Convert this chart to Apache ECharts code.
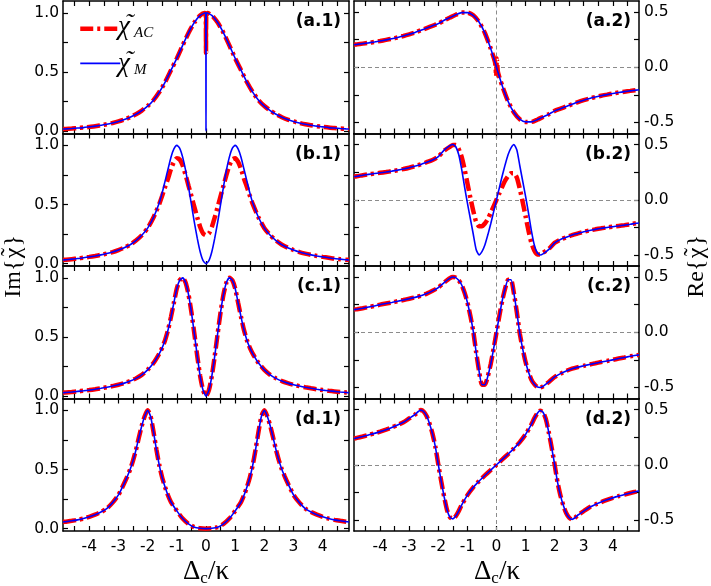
<!DOCTYPE html>
<html>
<head>
<meta charset="utf-8">
<script src="https://cdn.jsdelivr.net/npm/echarts@6/dist/echarts.min.js"></script>
<style>html,body{margin:0;padding:0;background:#fff;}#c{width:711px;height:586px;}</style>
</head>
<body>
<div id="c"></div>
<script>
// ---------- tick values ----------
const xTicks = [-4.5,-4,-3.5,-3,-2.5,-2,-1.5,-1,-0.5,0,0.5,1,1.5,2,2.5,3,3.5,4,4.5];
const xTickLabels = [-4,-3,-2,-1,0,1,2,3,4];
const imTicks = [0,0.25,0.5,0.75,1.0];
const imTickLabels = [0,0.5,1.0];
const reTicks = [-0.5,-0.25,0,0.25,0.5];
const reTickLabels = [-0.5,0,0.5];
const panelLabels = ['(a.1)','(a.2)','(b.1)','(b.2)','(c.1)','(c.2)','(d.1)','(d.2)'];
const legendSubs = ['AC','M'];

// ---------- row (a) ----------
const xA = [-4.9,-4.8,-4.6,-4.4,-4.2,-4.0,-3.8,-3.6,-3.4,-3.2,-3.0,-2.8,-2.6,-2.4,-2.2,-2.0,-1.8,-1.6,-1.4,-1.2,-1.0,-0.8,-0.6,-0.4,-0.2,-0.05,-0.01,0,0.01,0.05,0.2,0.4,0.6,0.8,1.0,1.2,1.4,1.6,1.8,2.0,2.2,2.4,2.6,2.8,3.0,3.2,3.4,3.6,3.8,4.0,4.2,4.4,4.6,4.8,4.9];
const imA_AC = [0.018,0.019,0.022,0.026,0.030,0.036,0.042,0.050,0.058,0.069,0.082,0.098,0.118,0.143,0.174,0.212,0.262,0.330,0.415,0.515,0.615,0.725,0.830,0.918,0.978,0.998,0.995,0.660,0.995,0.998,0.978,0.918,0.830,0.725,0.615,0.515,0.415,0.330,0.262,0.212,0.174,0.143,0.118,0.098,0.082,0.069,0.058,0.050,0.042,0.036,0.030,0.026,0.022,0.019,0.018];
const imA_M  = [0.018,0.019,0.022,0.026,0.030,0.036,0.042,0.050,0.058,0.069,0.082,0.098,0.118,0.143,0.174,0.212,0.262,0.330,0.415,0.515,0.615,0.725,0.830,0.918,0.978,0.998,1.000,0.000,1.000,0.998,0.978,0.918,0.830,0.725,0.615,0.515,0.415,0.330,0.262,0.212,0.174,0.143,0.118,0.098,0.082,0.069,0.058,0.050,0.042,0.036,0.030,0.026,0.022,0.019,0.018];
const reA_AC = [0.204,0.207,0.214,0.221,0.229,0.238,0.248,0.258,0.270,0.283,0.298,0.315,0.335,0.355,0.375,0.395,0.425,0.450,0.475,0.495,0.495,0.470,0.410,0.310,0.170,0.045,-0.080,0.000,0.080,-0.045,-0.170,-0.310,-0.410,-0.470,-0.495,-0.495,-0.475,-0.450,-0.425,-0.395,-0.375,-0.355,-0.335,-0.315,-0.298,-0.283,-0.270,-0.258,-0.248,-0.238,-0.229,-0.221,-0.214,-0.207,-0.204];
const reA_M  = [0.204,0.207,0.214,0.221,0.229,0.238,0.248,0.258,0.270,0.283,0.298,0.315,0.335,0.355,0.375,0.395,0.425,0.450,0.475,0.495,0.495,0.470,0.410,0.310,0.170,0.045,0.009,0.000,-0.009,-0.045,-0.170,-0.310,-0.410,-0.470,-0.495,-0.495,-0.475,-0.450,-0.425,-0.395,-0.375,-0.355,-0.335,-0.315,-0.298,-0.283,-0.270,-0.258,-0.248,-0.238,-0.229,-0.221,-0.214,-0.207,-0.204];

// ---------- row (b) ----------
const xB = [-4.9,-4.8,-4.6,-4.4,-4.2,-4.0,-3.8,-3.6,-3.4,-3.2,-3.0,-2.8,-2.6,-2.4,-2.2,-2.0,-1.8,-1.6,-1.5,-1.4,-1.3,-1.2,-1.1,-1.0,-0.9,-0.8,-0.7,-0.6,-0.5,-0.4,-0.3,-0.2,-0.1,0,0.1,0.2,0.3,0.4,0.5,0.6,0.7,0.8,0.9,1.0,1.1,1.2,1.3,1.4,1.5,1.6,1.8,2.0,2.2,2.4,2.6,2.8,3.0,3.2,3.4,3.6,3.8,4.0,4.2,4.4,4.6,4.8,4.9];
const imB_AC = [0.031,0.033,0.038,0.043,0.050,0.057,0.065,0.074,0.085,0.098,0.115,0.135,0.160,0.195,0.240,0.300,0.390,0.505,0.575,0.650,0.720,0.800,0.860,0.890,0.880,0.830,0.750,0.660,0.570,0.480,0.390,0.310,0.255,0.240,0.255,0.310,0.390,0.480,0.570,0.660,0.750,0.830,0.880,0.890,0.860,0.800,0.720,0.650,0.575,0.505,0.390,0.300,0.240,0.195,0.160,0.135,0.115,0.098,0.085,0.074,0.065,0.057,0.050,0.043,0.038,0.033,0.031];
const imB_M  = [0.031,0.033,0.038,0.043,0.050,0.057,0.065,0.074,0.085,0.098,0.115,0.135,0.160,0.195,0.240,0.300,0.390,0.515,0.600,0.700,0.800,0.900,0.970,1.000,0.975,0.900,0.790,0.650,0.500,0.350,0.215,0.100,0.025,0.000,0.025,0.100,0.215,0.350,0.500,0.650,0.790,0.900,0.975,1.000,0.970,0.900,0.800,0.700,0.600,0.515,0.390,0.300,0.240,0.195,0.160,0.135,0.115,0.098,0.085,0.074,0.065,0.057,0.050,0.043,0.038,0.033,0.031];
const reB_AC = [0.210,0.213,0.222,0.230,0.237,0.244,0.251,0.259,0.268,0.278,0.290,0.305,0.320,0.340,0.360,0.390,0.445,0.480,0.495,0.495,0.460,0.390,0.280,0.150,0.020,-0.100,-0.200,-0.240,-0.240,-0.215,-0.175,-0.120,-0.060,0.000,0.060,0.120,0.175,0.215,0.240,0.240,0.200,0.100,-0.020,-0.150,-0.280,-0.390,-0.460,-0.495,-0.495,-0.480,-0.445,-0.390,-0.360,-0.340,-0.320,-0.305,-0.290,-0.278,-0.268,-0.259,-0.251,-0.244,-0.237,-0.230,-0.222,-0.213,-0.210];
const reB_M  = [0.210,0.213,0.222,0.230,0.237,0.244,0.251,0.259,0.268,0.278,0.290,0.305,0.320,0.340,0.360,0.390,0.450,0.490,0.500,0.480,0.410,0.280,0.120,-0.030,-0.170,-0.310,-0.450,-0.500,-0.470,-0.410,-0.320,-0.220,-0.110,0.000,0.110,0.220,0.320,0.410,0.470,0.500,0.450,0.310,0.170,0.030,-0.120,-0.280,-0.410,-0.480,-0.500,-0.490,-0.450,-0.390,-0.360,-0.340,-0.320,-0.305,-0.290,-0.278,-0.268,-0.259,-0.251,-0.244,-0.237,-0.230,-0.222,-0.213,-0.210];

// ---------- row (c) (both curves coincide) ----------
const xC = [-4.9,-4.8,-4.6,-4.4,-4.2,-4.0,-3.8,-3.6,-3.4,-3.2,-3.0,-2.8,-2.6,-2.4,-2.2,-2.0,-1.8,-1.6,-1.5,-1.4,-1.3,-1.2,-1.1,-1.0,-0.9,-0.8,-0.7,-0.6,-0.5,-0.4,-0.3,-0.2,-0.1,0,0.1,0.2,0.3,0.4,0.5,0.6,0.7,0.8,0.9,1.0,1.1,1.2,1.3,1.4,1.5,1.6,1.8,2.0,2.2,2.4,2.6,2.8,3.0,3.2,3.4,3.6,3.8,4.0,4.2,4.4,4.6,4.8,4.9];
const imC = [0.029,0.031,0.035,0.040,0.045,0.051,0.058,0.066,0.075,0.085,0.096,0.110,0.127,0.150,0.180,0.222,0.280,0.360,0.410,0.475,0.560,0.670,0.790,0.910,0.980,1.000,0.960,0.860,0.710,0.530,0.340,0.170,0.050,0.000,0.050,0.170,0.340,0.530,0.710,0.860,0.960,1.000,0.980,0.910,0.790,0.670,0.560,0.475,0.410,0.360,0.280,0.222,0.180,0.150,0.127,0.110,0.096,0.085,0.075,0.066,0.058,0.051,0.045,0.040,0.035,0.031,0.029];
const reC = [0.205,0.209,0.218,0.228,0.238,0.250,0.260,0.270,0.281,0.292,0.304,0.316,0.330,0.350,0.375,0.405,0.450,0.490,0.500,0.495,0.470,0.430,0.360,0.270,0.150,0.010,-0.180,-0.350,-0.475,-0.475,-0.400,-0.290,-0.150,0.000,0.150,0.290,0.400,0.475,0.475,0.350,0.180,-0.010,-0.150,-0.270,-0.360,-0.430,-0.470,-0.495,-0.500,-0.490,-0.450,-0.405,-0.375,-0.350,-0.330,-0.316,-0.304,-0.292,-0.281,-0.270,-0.260,-0.250,-0.238,-0.228,-0.218,-0.209,-0.205];

// ---------- row (d) (both curves coincide) ----------
const xD = [-4.9,-4.8,-4.6,-4.4,-4.2,-4.0,-3.8,-3.6,-3.4,-3.2,-3.0,-2.8,-2.7,-2.6,-2.5,-2.4,-2.3,-2.2,-2.1,-2.0,-1.9,-1.8,-1.7,-1.6,-1.5,-1.4,-1.3,-1.2,-1.0,-0.8,-0.6,-0.4,-0.2,0,0.2,0.4,0.6,0.8,1.0,1.2,1.3,1.4,1.5,1.6,1.7,1.8,1.9,2.0,2.1,2.2,2.3,2.4,2.5,2.6,2.7,2.8,3.0,3.2,3.4,3.6,3.8,4.0,4.2,4.4,4.6,4.8,4.9];
const imD = [0.056,0.059,0.066,0.074,0.085,0.100,0.118,0.140,0.170,0.220,0.285,0.385,0.440,0.500,0.575,0.665,0.770,0.870,0.950,1.000,0.950,0.820,0.670,0.535,0.430,0.350,0.280,0.225,0.150,0.085,0.040,0.012,0.003,0.000,0.003,0.012,0.040,0.085,0.150,0.225,0.280,0.350,0.430,0.535,0.670,0.820,0.950,1.000,0.950,0.870,0.770,0.665,0.575,0.500,0.440,0.385,0.285,0.220,0.170,0.140,0.118,0.100,0.085,0.074,0.066,0.059,0.056];
const reD = [0.236,0.243,0.256,0.270,0.284,0.300,0.318,0.338,0.360,0.385,0.420,0.455,0.480,0.495,0.480,0.440,0.370,0.280,0.160,0.000,-0.150,-0.290,-0.410,-0.475,-0.490,-0.465,-0.420,-0.365,-0.275,-0.205,-0.148,-0.097,-0.048,0.000,0.048,0.097,0.148,0.205,0.275,0.365,0.420,0.465,0.490,0.475,0.410,0.290,0.150,0.000,-0.160,-0.280,-0.370,-0.440,-0.480,-0.495,-0.480,-0.455,-0.420,-0.385,-0.360,-0.338,-0.318,-0.300,-0.284,-0.270,-0.256,-0.243,-0.236];

const panels = [
  {x:xA, ac:imA_AC, m:imA_M}, {x:xA, ac:reA_AC, m:reA_M},
  {x:xB, ac:imB_AC, m:imB_M}, {x:xB, ac:reB_AC, m:reB_M},
  {x:xC, ac:imC, m:imC},      {x:xC, ac:reC, m:reC},
  {x:xD, ac:imD, m:imD},      {x:xD, ac:reD, m:reD}
];

const FONT = 'DejaVu Sans';
const SERIF = '"Liberation Serif"';
const grids = [], xAxes = [], yAxes = [], series = [], graphics = [];
const axisLine = {show:true, onZero:false, lineStyle:{color:'#000', width:1.5}};
const redDash = [13,4,3,4];

panels.forEach((p, i) => {
  const row = Math.floor(i/2), col = i % 2;
  const top = 1 + row*132.5;
  grids.push({left: col===0 ? 63 : 354, width: col===0 ? 286 : 285, top: top, height: 132.5,
              containLabel:false, outerBoundsMode:'none'});
  ['bottom','top'].forEach(pos => {
    xAxes.push({type:'value', gridIndex:i, position:pos, min:-4.9, max:4.9,
      axisLine: axisLine,
      axisTick:{show:true, inside:true, length:5, customValues:xTicks, lineStyle:{color:'#000', width:1.2}},
      axisLabel:{show: pos==='bottom' && row===3, customValues:xTickLabels, fontFamily:FONT, fontSize:15.5, color:'#000', margin:8,
                 formatter: v => String(v)},
      splitLine:{show:false}});
  });
  const isIm = col===0;
  ['left','right'].forEach(pos => {
    yAxes.push({type:'value', gridIndex:i, position:pos,
      min: isIm ? -0.02 : -0.6, max: isIm ? 1.1 : 0.6,
      axisLine: axisLine,
      axisTick:{show:true, inside:true, length:5, customValues: isIm ? imTicks : reTicks, lineStyle:{color:'#000', width:1.2}},
      axisLabel:{show: (isIm && pos==='left') || (!isIm && pos==='right'),
                 customValues: isIm ? imTickLabels : reTickLabels,
                 fontFamily:FONT, fontSize:15.5, color:'#000', margin: isIm ? 4 : 5,
                 formatter: v => v.toFixed(1)},
      splitLine:{show:false}});
  });
  const red = {type:'line', name:'AC', xAxisIndex:2*i, yAxisIndex:2*i,
    data: p.x.map((x,k) => [x, p.ac[k]]), showSymbol:false, symbol:'none', smooth:0.2,
    lineStyle:{color:'#ff0000', width:4.5, type:redDash, cap:'butt'}, itemStyle:{color:'#ff0000'},
    z:2, silent:true, animation:false};
  if (!isIm) {
    red.markLine = {silent:true, symbol:['none','none'], label:{show:false}, z:1, animation:false,
      lineStyle:{color:'#8c8c8c', type:[4,3], width:1}, emphasis:{disabled:true},
      data:[{yAxis:0},{xAxis:0}]};
  }
  series.push(red);
  series.push({type:'line', name:'M', xAxisIndex:2*i, yAxisIndex:2*i,
    data: p.x.map((x,k) => [x, p.m[k]]), showSymbol:false, symbol:'none', smooth:0.2,
    lineStyle:{color:'#0000ff', width:1.6}, itemStyle:{color:'#0000ff'},
    z:3, silent:true, animation:false});
  graphics.push({type:'text', x: col===0 ? 341 : 631, y: top + 21,
    style:{text: panelLabels[i], font:'bold 17px "DejaVu Sans"', fill:'#000', align:'right', verticalAlign:'middle'}});
});

// rotated axis titles: "Im{χ̃}" and "Re{χ̃}" composed so the tilde sits over χ
function yTitle(cx, head) {
  const c0 = 13;
  return {type:'group', x:cx, y:266, rotation:Math.PI/2, children:[
    {type:'text', x:c0-6.5, y:0, style:{text:head, font:'24px '+SERIF, fill:'#000', align:'right', verticalAlign:'middle'}},
    {type:'text', x:c0, y:0, style:{text:'\u03c7', font:'24px '+SERIF, fill:'#000', align:'center', verticalAlign:'middle'}},
    {type:'text', x:c0+1, y:-3, style:{text:'\u02dc', font:'24px '+SERIF, fill:'#000', align:'center', verticalAlign:'middle'}},
    {type:'text', x:c0+6.5, y:0, style:{text:'}', font:'24px '+SERIF, fill:'#000', align:'left', verticalAlign:'middle'}}
  ]};
}
graphics.push(yTitle(14, 'Im{'));
graphics.push(yTitle(697, 'Re{'));
[206, 497].forEach(cx => {
  graphics.push({type:'text', x:cx, y:572,
    style:{text:'{d|\u0394}{s|c}{d|/\u03ba}', align:'center', verticalAlign:'middle', fill:'#000',
      rich:{d:{fontFamily:'Liberation Serif', fontSize:27, lineHeight:30, fill:'#000', verticalAlign:'middle'},
            s:{fontFamily:'Liberation Serif', fontSize:17, lineHeight:17, fill:'#000', verticalAlign:'bottom'}}}});
});
// legend labels  χ̃_AC / χ̃_M
[25, 62].forEach((cy, k) => {
  graphics.push({type:'text', x:118, y:cy+2, style:{text:'\u03c7', font:'italic 27px '+SERIF, fill:'#000', align:'left', verticalAlign:'middle'}});
  graphics.push({type:'text', x:129, y:cy-1, style:{text:'\u02dc', font:'italic 26px '+SERIF, fill:'#000', align:'center', verticalAlign:'middle'}});
  graphics.push({type:'text', x:134, y:cy+8, style:{text:legendSubs[k], font:'italic 15px '+SERIF, fill:'#000', align:'left', verticalAlign:'middle'}});
});

const chart = echarts.init(document.getElementById('c'), null, {renderer:'canvas'});
chart.setOption({
  animation:false,
  backgroundColor:'#fff',
  grid: grids, xAxis: xAxes, yAxis: yAxes, series: series, graphic: graphics,
  legend:{
    data:[{name:'AC', lineStyle:{color:'#ff0000', width:4.5, type:redDash, cap:'butt'}},
          {name:'M', lineStyle:{color:'#0000ff', width:1.6, type:'solid'}}],
    orient:'vertical', left:73, top:19, itemWidth:40, itemHeight:12, itemGap:25,
    selectedMode:false, formatter: () => '',
    itemStyle:{color:'rgba(0,0,0,0)', borderColor:'rgba(0,0,0,0)', borderWidth:0},
    textStyle:{fontSize:12, lineHeight:12, color:'#000'}}
});
</script>
</body>
</html>
